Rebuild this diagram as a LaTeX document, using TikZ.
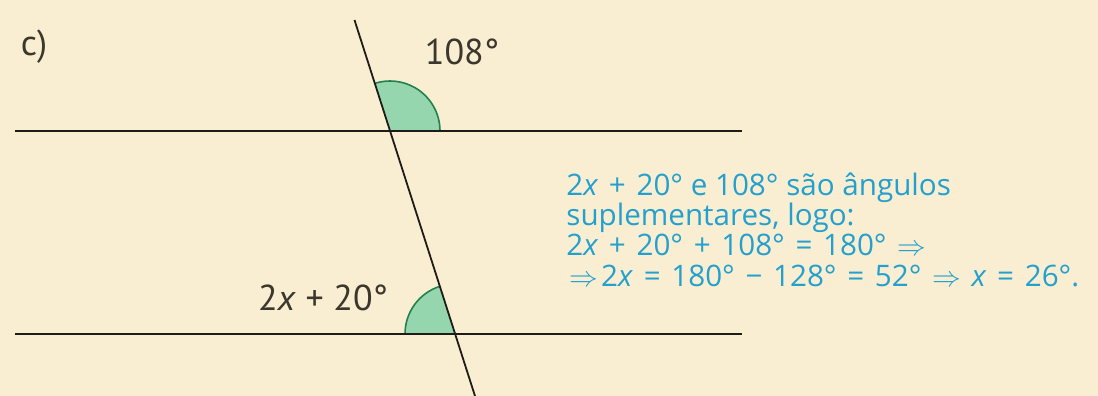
\documentclass[tikz,border=0pt]{standalone}
\usepackage{fontspec}
\setmainfont{PT Sans}
\newfontfamily\notefont{Open Sans}
\usetikzlibrary{positioning, calc}
\definecolor{bgCream}{RGB}{250,238,210}
\definecolor{lineDark}{RGB}{30,28,25}
\definecolor{textDark}{RGB}{60,55,45}
\definecolor{angFill}{RGB}{150,214,175}
\definecolor{angEdge}{RGB}{35,130,75}
\definecolor{noteBlue}{RGB}{35,160,205}
\newcommand{\op}[1]{\hspace{1.5pt}#1\hspace{1.5pt}}
\newcommand{\impl}{\smash{$\Rightarrow$}}

\begin{document}
\begin{tikzpicture}[
    x=0.5pt, y=0.5pt,
    rule/.style={draw=lineDark, line width=0.9pt},
    sector/.style={fill=angFill, draw=none},
    rim/.style={draw=angEdge, line width=0.8pt},
    lbl/.style={text=textDark, font=\fontsize{18}{20}\selectfont, inner sep=0pt},
    note/.style={text=noteBlue, font=\notefont\fontsize{14.8}{15.2}\selectfont, align=left, inner sep=0pt, anchor=north west}
  ]
    % Background
    \fill[bgCream] (0,0) rectangle (1098,396);
    \useasboundingbox (0,0) rectangle (1098,396);

    % Parallel lines and transversal
    \coordinate (topL) at (15,265);
    \coordinate (topR) at (742,265);
    \coordinate (botL) at (15,62);
    \coordinate (botR) at (742,62);
    \coordinate (P) at (390,265);
    \coordinate (Q) at (455,62);
    \coordinate (tEnd) at (354.5,376);
    \coordinate (bEnd) at (475,0);

    % Angle marks
    \fill[sector] (P) -- ++(0:25pt) arc (0:108:25pt) -- cycle;
    \draw[rim] (P) ++(0:25pt) arc (0:108:25pt);
    \fill[sector] (Q) -- ++(108:25pt) arc (108:180:25pt) -- cycle;
    \draw[rim] (Q) ++(108:25pt) arc (108:180:25pt);

    \draw[rule] (topL) -- (topR);
    \draw[rule] (botL) -- (botR);
    \draw[rule] (tEnd) -- (bEnd);

    % Labels
    \node[lbl] (item) at (34,349) {c)};
    \node[lbl] (angTop) at (462,344) {108°};
    \node[lbl] (angBot) at (323,98) {2\textit{x} + 20°};

    % Solution note
    \node[note] (sol) at (566,224) {2\textit{x} \op{+} 20° e 108° são ângulos\\
      suplementares, logo:\\
      2\textit{x} \op{+} 20° \op{+} 108° \op{=} 180° \op{\impl}\\
      \op{\impl}2\textit{x} \op{=} 180° \op{−} 128° \op{=} 52° \op{\impl} \textit{x} \op{=} 26°.};
  \end{tikzpicture}
\end{document}
